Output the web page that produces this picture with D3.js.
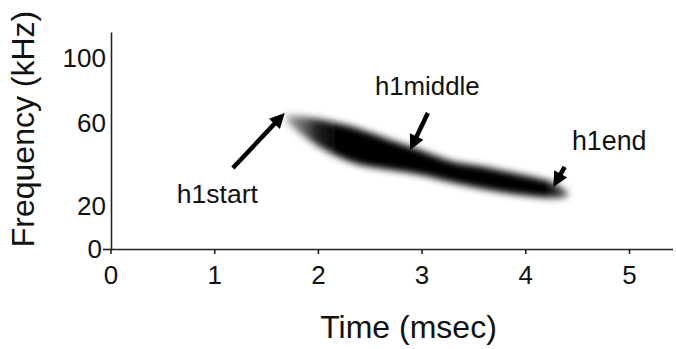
<!DOCTYPE html>
<html><head><meta charset="utf-8">
<script src="https://cdn.jsdelivr.net/npm/d3@7"></script>
<style>
body{margin:0;background:#fff;}
svg{display:block;font-family:"Liberation Sans",Arial,Helvetica,sans-serif;}
</style>
</head><body>
<svg id="c" width="676" height="349"></svg>
<script>
// ---- data ----
const xTicks = [0, 1, 2, 3, 4, 5];
const yTicks = [0, 20, 60, 100];
const bandTime = [1.68, 1.83, 2.07, 2.36, 2.69, 2.98, 3.30, 3.63, 3.95, 4.27, 4.40, 4.45];
const bandHigh = [66.8, 65.5, 63.1, 59.0, 53.3, 48.4, 42.7, 39.8, 36.4, 32.5, 28.5, 25.8];
const bandLow  = [59.5, 53.3, 45.5, 39.3, 36.4, 34.0, 30.1, 26.7, 24.3, 22.9, 23.4, 24.6];
const labels = ["h1start", "h1middle", "h1end"];
const labelSize = [26.5, 25.8, 26.8];
const labelTime = [0.64, 2.55, 4.45];
const labelFreq = [21.4, 77.2, 47.0];
const arrowTailTime = [1.18, 3.06, 4.38];
const arrowTailFreq = [38.3, 66.2, 38.8];
const arrowTipTime = [1.68, 2.89, 4.27];
const arrowTipFreq = [66.2, 47.0, 29.2];

// ---- scales ----
const svg = d3.select("#c");
const x = d3.scaleLinear().domain([0, 5.42]).range([110.5, 110.5 + 5.42 * 103.7]);
const y = d3.scaleLinear().domain([0, 20, 60, 100, 116]).range([249, 206, 123, 58, 32]);

// ---- defs ----
const defs = svg.append("defs");
const f = defs.append("filter").attr("id", "soft")
  .attr("x", "-20%").attr("y", "-50%").attr("width", "140%").attr("height", "200%");
f.append("feMorphology").attr("operator", "erode").attr("radius", 2).attr("result", "er");
f.append("feGaussianBlur").attr("in", "er").attr("stdDeviation", 3.6);

const g0 = x(bandTime[0]), g1 = x(bandTime[bandTime.length - 1]);
const grad = defs.append("linearGradient").attr("id", "fade")
  .attr("gradientUnits", "userSpaceOnUse")
  .attr("x1", g0).attr("x2", g1).attr("y1", 0).attr("y2", 0);
[[0, "#b8b8b8"], [0.05, "#808080"], [0.12, "#202020"], [0.2, "#000"], [0.9, "#000"], [1, "#707070"]]
  .forEach(([o, c]) => grad.append("stop").attr("offset", o).attr("stop-color", c));

// ---- band ----
const band = bandTime.map((t, i) => ({t, hi: bandHigh[i], lo: bandLow[i]}));
const area = d3.area().x(d => x(d.t)).y0(d => y(d.lo)).y1(d => y(d.hi)).curve(d3.curveCatmullRom);
svg.append("path").datum(band).attr("d", area)
  .attr("fill", "url(#fade)").attr("filter", "url(#soft)");

// ---- axes ----
const xAxis = d3.axisBottom(x).tickValues(xTicks).tickSize(5).tickPadding(12).tickSizeOuter(0)
  .tickFormat(d3.format("d"));
const gx = svg.append("g").attr("transform", `translate(0,${y(0)})`).call(xAxis);
gx.selectAll("text").attr("font-size", 26).attr("fill", "#111").attr("font-family", null);
gx.selectAll("path,line").attr("stroke", "#222").attr("stroke-width", 1.6);

const yAxis = d3.axisLeft(y).tickValues(yTicks).tickSize(0).tickPadding(5).tickSizeOuter(0)
  .tickFormat(d3.format("d"));
const gy = svg.append("g").attr("transform", `translate(${x(0) + 0.5},0)`).call(yAxis);
gy.selectAll("text").attr("font-size", 26).attr("fill", "#111").attr("font-family", null);
gy.selectAll("path,line").attr("stroke", "#222").attr("stroke-width", 1.6);
gy.selectAll(".tick").filter(d => d === 0).each(function () {
  d3.select(this).select("line").attr("x2", -8);
  d3.select(this).select("text").attr("x", -9);
});

// ---- axis titles ----
svg.append("text").attr("x", 408.5).attr("y", 338)
  .attr("text-anchor", "middle").attr("font-size", 32).attr("fill", "#111").text("Time (msec)");
svg.append("text").attr("transform", `translate(34,129) rotate(-90)`)
  .attr("text-anchor", "middle").attr("font-size", 32).attr("fill", "#111").text("Frequency (kHz)");

// ---- annotations ----
labels.forEach((lab, i) => {
  svg.append("text").attr("x", x(labelTime[i])).attr("y", y(labelFreq[i]))
    .attr("font-size", labelSize[i]).attr("fill", "#111").text(lab);
  const x1 = x(arrowTailTime[i]), y1 = y(arrowTailFreq[i]);
  const x2 = x(arrowTipTime[i]), y2 = y(arrowTipFreq[i]);
  const dx = x2 - x1, dy = y2 - y1, L = Math.hypot(dx, dy);
  const ux = dx / L, uy = dy / L, px = -uy, py = ux;
  const hl = 15, hw = 7.5;
  const bx = x2 - ux * hl, by = y2 - uy * hl;
  svg.append("line").attr("x1", x1).attr("y1", y1).attr("x2", bx + ux * 2).attr("y2", by + uy * 2)
    .attr("stroke", "#000").attr("stroke-width", 4.5);
  svg.append("path")
    .attr("d", `M${x2},${y2}L${bx + px * hw},${by + py * hw}L${bx - px * hw},${by - py * hw}Z`)
    .attr("fill", "#000");
});
</script>
</body></html>
